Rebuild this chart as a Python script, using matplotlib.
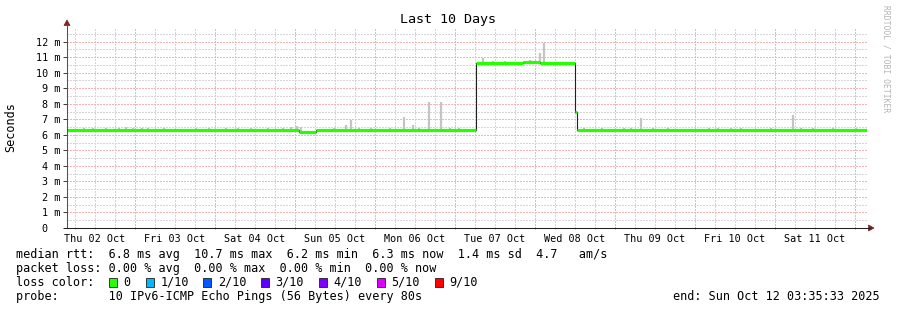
import numpy as np
import pandas as pd
import matplotlib
matplotlib.use("Agg")
import matplotlib.pyplot as plt
import matplotlib.dates as mdates
import matplotlib.ticker as ticker
from matplotlib.lines import Line2D
from matplotlib.patches import Polygon, Rectangle

# ==========================================
# data
# ==========================================
T_START = "2025-10-02 03:35:33"
T_END = "2025-10-12 03:35:33"

# median rtt, step segments (start time, value in ms)
median_times = ["2025-10-02 03:35", "2025-10-05 01:10", "2025-10-05 06:25",
                "2025-10-06 20:00", "2025-10-07 06:10", "2025-10-07 20:15",
                "2025-10-08 01:25", "2025-10-08 12:00", "2025-10-08 12:40",
                "2025-10-12 03:35"]
median_ms = [6.29, 6.17, 6.28, 6.34, 10.62, 10.70, 10.63, 7.49, 6.31, 6.31]

# smoke tops (time, ms)
smoke_times = ["2025-10-02 08:37", "2025-10-02 11:18", "2025-10-02 15:13", "2025-10-02 19:07",
               "2025-10-02 21:13", "2025-10-02 23:18", "2025-10-03 02:01", "2025-10-03 03:49",
               "2025-10-03 08:37", "2025-10-03 18:13", "2025-10-03 22:07", "2025-10-04 03:13",
               "2025-10-04 06:49", "2025-10-04 10:42", "2025-10-04 15:49", "2025-10-04 20:18",
               "2025-10-04 22:42", "2025-10-05 00:43", "2025-10-05 01:55", "2025-10-05 11:37",
               "2025-10-05 15:18", "2025-10-05 16:42", "2025-10-05 19:06", "2025-10-05 22:42",
               "2025-10-06 04:25", "2025-10-06 08:42", "2025-10-06 11:30", "2025-10-06 13:06",
               "2025-10-06 16:18", "2025-10-06 19:54", "2025-10-06 22:25", "2025-10-07 01:06",
               "2025-10-07 08:18", "2025-10-07 11:30", "2025-10-07 15:00", "2025-10-07 22:30",
               "2025-10-08 01:25", "2025-10-08 02:49", "2025-10-08 14:40", "2025-10-08 20:01",
               "2025-10-09 02:37", "2025-10-09 04:43", "2025-10-09 07:41", "2025-10-09 11:18",
               "2025-10-09 15:49", "2025-10-10 04:06", "2025-10-10 06:49", "2025-10-10 10:42",
               "2025-10-10 13:42", "2025-10-10 22:42", "2025-10-11 05:31", "2025-10-11 07:42",
               "2025-10-11 11:18", "2025-10-11 17:18", "2025-10-12 00:13"]
smoke_top = [6.42, 6.42, 6.45, 6.42, 6.50, 6.42, 6.45, 6.42,
             6.42, 6.45, 6.42, 6.42, 6.45, 6.42, 6.42, 6.45,
             6.50, 6.57, 6.50, 6.42, 6.63, 6.95, 6.42, 6.42,
             6.42, 7.17, 6.65, 6.42, 8.11, 8.11, 6.42, 6.42,
             10.95, 10.78, 10.76, 10.80, 11.25, 11.93, 6.42, 6.42,
             6.42, 6.45, 7.10, 6.42, 6.45, 6.42, 6.45, 6.42,
             6.45, 6.42, 7.28, 6.42, 6.42, 6.42, 6.45]

loss_labels = ["0", "1/10", "2/10", "3/10", "4/10", "5/10", "9/10"]
loss_colors = ["#26ff00", "#00b8ff", "#0059ff", "#5e00ff", "#7e00ff", "#dd00ff", "#ff0000"]

legend_rows = [
    "median rtt:  6.8 ms avg  10.7 ms max  6.2 ms min  6.3 ms now  1.4 ms sd  4.7   am/s",
    "packet loss: 0.00 % avg  0.00 % max  0.00 % min  0.00 % now",
    "loss color:",
    "probe:       10 IPv6-ICMP Echo Pings (56 Bytes) every 80s",
]
END_TEXT = "end: Sun Oct 12 03:35:33 2025"

# ==========================================
# layout (pixels)
# ==========================================
W, H = 897, 310
AX_L, AX_R, AX_T, AX_B = 67, 867, 27, 228
MONO = "DejaVu Sans Mono"
GRID_MINOR = "#d6d6d6"
GRID_MAJOR = "#f6b4b4"
ARROW = "#7f1f1f"


def fx(x):
    return x / W


def fy(y):
    return 1 - y / H


plt.rcParams["font.family"] = MONO

fig = plt.figure(figsize=(W / 100, H / 100), dpi=100)
fig.patch.set_facecolor("white")
ax = fig.add_axes([fx(AX_L), fy(AX_B), (AX_R - AX_L) / W, (AX_B - AX_T) / H])

t = mdates.date2num(pd.to_datetime(median_times))
v = np.array(median_ms)
st = mdates.date2num(pd.to_datetime(smoke_times))
stop = np.array(smoke_top)

# smoke: grey bars from the median up
idx = np.clip(np.searchsorted(t, st, side="right") - 1, 0, len(v) - 1)
ax.vlines(st, v[idx], stop, color="#c4c4c4", linewidth=1.6, zorder=2)

# thin dark median (shows the vertical steps), then the loss-coloured segments
ax.step(t, v, where="post", color="#202020", linewidth=0.8, zorder=3)
ax.hlines(v[:-1], t[:-1], t[1:], color=loss_colors[0], linewidth=2.3, zorder=4)

ax.set_xlim(mdates.date2num(pd.Timestamp(T_START)), mdates.date2num(pd.Timestamp(T_END)))
ax.set_ylim(0, (AX_B - AX_T) / 15.53)

# grid
ax.set_axisbelow(True)
ax.xaxis.set_major_locator(mdates.DayLocator())
ax.xaxis.set_minor_locator(mdates.HourLocator(byhour=[0, 6, 12, 18]))
ax.xaxis.set_major_formatter(ticker.NullFormatter())


def day_label(x, pos):
    d = mdates.num2date(x)
    return d.strftime("%a %d %b") if d.hour == 12 else ""


ax.xaxis.set_minor_formatter(ticker.FuncFormatter(day_label))
ax.yaxis.set_major_locator(ticker.MultipleLocator(1))
ax.yaxis.set_minor_locator(ticker.MultipleLocator(0.5))
ax.yaxis.set_major_formatter(ticker.FuncFormatter(lambda y, p: "0  " if y == 0 else f"{int(round(y))} m"))

ax.grid(which="minor", color=GRID_MINOR, linestyle=(0, (1.4, 1.4)), linewidth=0.72, antialiased=False)
ax.grid(which="major", color=GRID_MAJOR, linestyle=(0, (1.4, 1.4)), linewidth=0.72, antialiased=False)

ax.tick_params(axis="x", which="major", length=2, width=0.72, color="#e06060", direction="inout")
ax.tick_params(axis="x", which="minor", length=2, width=0.72, color="#b0b0b0", direction="inout",
               labelsize=7.3, pad=3.5)
ax.tick_params(axis="y", which="major", length=3, width=0.72, color="#404040", direction="out",
               labelsize=7.3, pad=2.0)
ax.tick_params(axis="y", which="minor", length=0)

for s in ax.spines.values():
    s.set_visible(False)

# axis lines with arrows
fig.add_artist(Line2D([fx(AX_L), fx(AX_L)], [fy(AX_B), fy(23)], color="#505050", linewidth=0.75))
fig.add_artist(Line2D([fx(AX_L - 3), fx(870)], [fy(AX_B), fy(AX_B)], color="#202020", linewidth=0.75))
fig.add_artist(Polygon([[fx(64), fy(25.5)], [fx(70), fy(25.5)], [fx(67), fy(20)]], closed=True,
                       facecolor=ARROW, edgecolor=ARROW, linewidth=0.5))
fig.add_artist(Polygon([[fx(868.5), fy(225)], [fx(868.5), fy(231)], [fx(874), fy(228)]], closed=True,
                       facecolor=ARROW, edgecolor=ARROW, linewidth=0.5))

# texts
fig.text(fx(448), fy(19), "Last 10 Days", ha="center", va="center", fontsize=9.6, color="black")
fig.text(fx(11), fy(127), "Seconds", ha="center", va="center", rotation=90, fontsize=8.5)
fig.text(fx(886), fy(5), "RRDTOOL / TOBI OETIKER", ha="center", va="top", rotation=270,
         fontsize=5.8, color="#b4b4b4")

row_y = [254.3, 268.3, 282.3, 296.3]
for txt, y in zip(legend_rows, row_y):
    fig.text(fx(16), fy(y), txt, ha="left", va="center", fontsize=8.5, color="black")
fig.text(fx(880), fy(row_y[3]), END_TEXT, ha="right", va="center", fontsize=8.5, color="black")

box_x = [108.7, 145.7, 203.3, 261.0, 319.0, 377.0, 435.0]
for bx, lab, col in zip(box_x, loss_labels, loss_colors):
    fig.add_artist(Rectangle((fx(bx), fy(row_y[2] + 4.5)), 8 / W, 9 / H, facecolor=col,
                             edgecolor="#202020", linewidth=0.6))
    fig.text(fx(bx + 14.5), fy(row_y[2]), lab, ha="left", va="center", fontsize=8.5, color="black")

fig.savefig("out.png", dpi=100, facecolor="white")
